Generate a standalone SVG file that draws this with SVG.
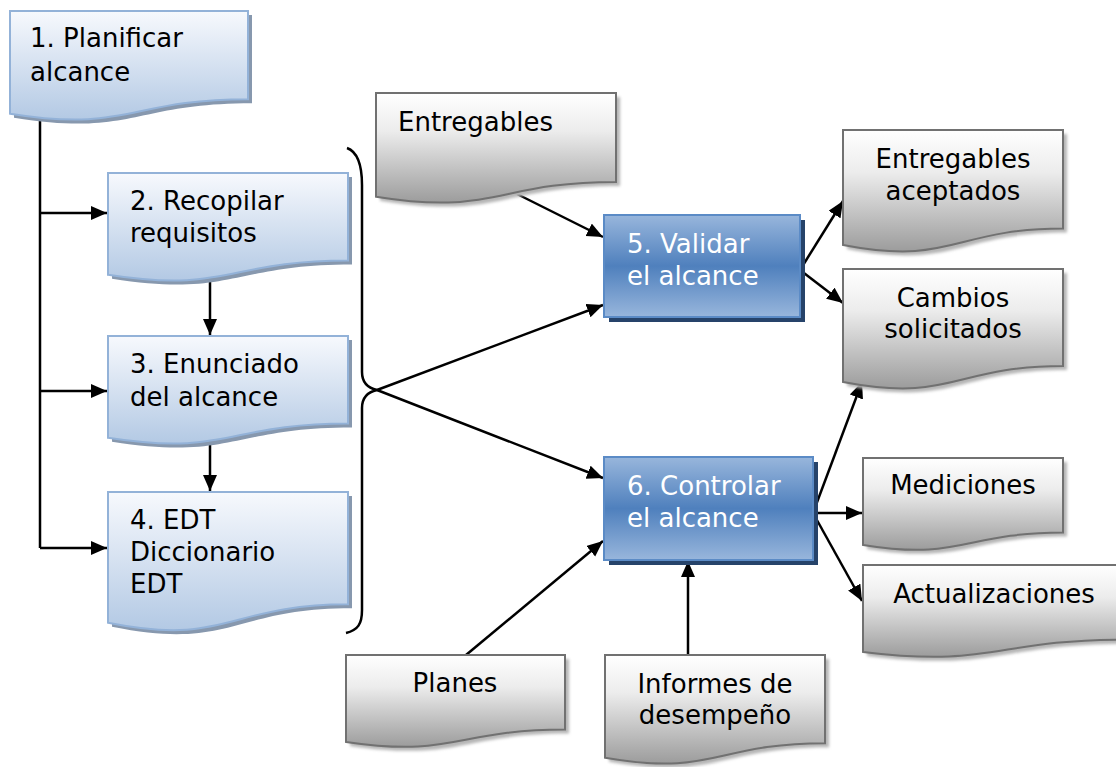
<svg xmlns="http://www.w3.org/2000/svg" width="1116" height="767" viewBox="0 0 1116 767">
<defs>
<linearGradient id="gLight" x1="0" y1="0" x2="0" y2="1">
<stop offset="0" stop-color="#f7f9fd"/>
<stop offset="1" stop-color="#b3c9e4"/>
</linearGradient>
<linearGradient id="gDark" x1="0" y1="0" x2="0" y2="1">
<stop offset="0" stop-color="#98b6dc"/>
<stop offset="0.5" stop-color="#4f80bd"/>
<stop offset="1" stop-color="#98b6dc"/>
</linearGradient>
<linearGradient id="gGray" x1="0" y1="0" x2="0" y2="1">
<stop offset="0" stop-color="#ffffff"/>
<stop offset="0.35" stop-color="#ececec"/>
<stop offset="1" stop-color="#9c9c9c"/>
</linearGradient>
<filter id="blur" x="-10%" y="-10%" width="120%" height="120%">
<feGaussianBlur stdDeviation="1.5"/>
</filter>
<marker id="arr" markerUnits="userSpaceOnUse" markerWidth="17" markerHeight="15" refX="16" refY="7" orient="auto">
<path d="M0,0 L16,7 L0,14 Z" fill="#000"/>
</marker>
</defs>
<style>
.lt{fill:url(#gLight);stroke:#93b2d8;stroke-width:2}
.lts{fill:#8798ae}
.dk{fill:url(#gDark);stroke:#5b8bc6;stroke-width:2}
.dks{fill:#26436a}
.gr{fill:url(#gGray);stroke:#717171;stroke-width:2}
.grs{fill:#b5b5b5;filter:url(#blur)}
text{font-family:"DejaVu Sans","Verdana",sans-serif;font-size:26px;fill:#000}
.w{fill:#fff}
.c{text-anchor:middle}
.ln{fill:none;stroke:#000;stroke-width:2.5}
.ar{fill:none;stroke:#000;stroke-width:2.5;marker-end:url(#arr)}
</style>

<g id="connectors">
<path class="ln" d="M40,117 V548"/>
<path class="ar" d="M40,213 H107"/>
<path class="ar" d="M40,391 H107"/>
<path class="ar" d="M40,548 H107"/>
<path class="ar" d="M210,282 V335"/>
<path class="ar" d="M210,445 V491"/>
<path class="ln" d="M347,148 C358,152 362,165 362,185 L362,372 C362,383 368,388 377,390 C368,392 362,397 362,408 L362,610 C362,624 358,630 346,633"/>
<path class="ar" d="M517,194 L603,237"/>
<path class="ar" d="M377,390 L603,305"/>
<path class="ar" d="M377,390 L603,478"/>
<path class="ar" d="M466,655 L603,541"/>
<path class="ar" d="M688,655 V561"/>
<path class="ar" d="M800,270 L843,201"/>
<path class="ar" d="M800,270 L843,303"/>
<path class="ar" d="M813,513 L862,382"/>
<path class="ar" d="M813,513 H862"/>
<path class="ar" d="M813,513 L862,601"/>
</g>

<g id="n1">
<path class="lts" transform="translate(4,4)" d="M10,11 H248 V99.2 C129,99.2 129,132.8 10,113.7 Z"/>
<path class="lt" d="M10,11 H248 V99.2 C129,99.2 129,132.8 10,113.7 Z"/>
<text x="30" y="47">1. Planificar</text>
<text x="30" y="81">alcance</text>
</g>

<g id="n2">
<path class="lts" transform="translate(4,4)" d="M108,173 H348 V260.4 C228,260.4 228,293.7 108,274.8 Z"/>
<path class="lt" d="M108,173 H348 V260.4 C228,260.4 228,293.7 108,274.8 Z"/>
<text x="130" y="210">2. Recopilar</text>
<text x="130" y="242">requisitos</text>
</g>

<g id="n3">
<path class="lts" transform="translate(4,4)" d="M108,336 H348 V423.4 C228,423.4 228,456.7 108,437.8 Z"/>
<path class="lt" d="M108,336 H348 V423.4 C228,423.4 228,456.7 108,437.8 Z"/>
<text x="130" y="373">3. Enunciado</text>
<text x="130" y="406">del alcance</text>
</g>

<g id="n4">
<path class="lts" transform="translate(4,4)" d="M108,492 H348 V604.3 C228,604.3 228,647 108,622.8 Z"/>
<path class="lt" d="M108,492 H348 V604.3 C228,604.3 228,647 108,622.8 Z"/>
<text x="130" y="529">4. EDT</text>
<text x="130" y="561">Diccionario</text>
<text x="130" y="593">EDT</text>
</g>

<g id="entregables">
<path class="grs" transform="translate(4,4)" d="M376,93 H616 V182 C496,182 496,215.9 376,196.7 Z"/>
<path class="gr" d="M376,93 H616 V182 C496,182 496,215.9 376,196.7 Z"/>
<text x="398" y="131">Entregables</text>
</g>

<g id="n5">
<rect class="dks" x="609" y="220" width="196" height="102"/>
<rect class="dk" x="604" y="215" width="196" height="102"/>
<text class="w" x="627" y="253">5. Validar</text>
<text class="w" x="627" y="285">el alcance</text>
</g>

<g id="n6">
<rect class="dks" x="609" y="462" width="209" height="103"/>
<rect class="dk" x="604" y="457" width="209" height="103"/>
<text class="w" x="627" y="495">6. Controlar</text>
<text class="w" x="627" y="527">el alcance</text>
</g>

<g id="aceptados">
<path class="grs" transform="translate(4,4)" d="M843,130 H1063 V228.6 C953,228.6 953,266.2 843,244.9 Z"/>
<path class="gr" d="M843,130 H1063 V228.6 C953,228.6 953,266.2 843,244.9 Z"/>
<text class="c" x="953" y="168">Entregables</text>
<text class="c" x="953" y="200">aceptados</text>
</g>

<g id="cambios">
<path class="grs" transform="translate(4,4)" d="M843,269 H1063 V366 C953,366 953,403 843,382 Z"/>
<path class="gr" d="M843,269 H1063 V366 C953,366 953,403 843,382 Z"/>
<text class="c" x="953" y="307">Cambios</text>
<text class="c" x="953" y="338">solicitados</text>
</g>

<g id="mediciones">
<path class="grs" transform="translate(4,4)" d="M863,458 H1063 V532.6 C963,532.6 963,561 863,544.9 Z"/>
<path class="gr" d="M863,458 H1063 V532.6 C963,532.6 963,561 863,544.9 Z"/>
<text class="c" x="963" y="494">Mediciones</text>
</g>

<g id="actualizaciones">
<path class="grs" transform="translate(4,4)" d="M863,565 H1125 V639.6 C994,639.6 994,668 863,651.9 Z"/>
<path class="gr" d="M863,565 H1125 V639.6 C994,639.6 994,668 863,651.9 Z"/>
<text class="c" x="994" y="603">Actualizaciones</text>
</g>

<g id="planes">
<path class="grs" transform="translate(4,4)" d="M346,655 H565 V729.6 C455.5,729.6 455.5,758 346,741.9 Z"/>
<path class="gr" d="M346,655 H565 V729.6 C455.5,729.6 455.5,758 346,741.9 Z"/>
<text class="c" x="455" y="692">Planes</text>
</g>

<g id="informes">
<path class="grs" transform="translate(4,4)" d="M605,655 H825 V743.2 C715,743.2 715,776.8 605,757.7 Z"/>
<path class="gr" d="M605,655 H825 V743.2 C715,743.2 715,776.8 605,757.7 Z"/>
<text class="c" x="715" y="693">Informes de</text>
<text class="c" x="715" y="724">desempeño</text>
</g>
</svg>
